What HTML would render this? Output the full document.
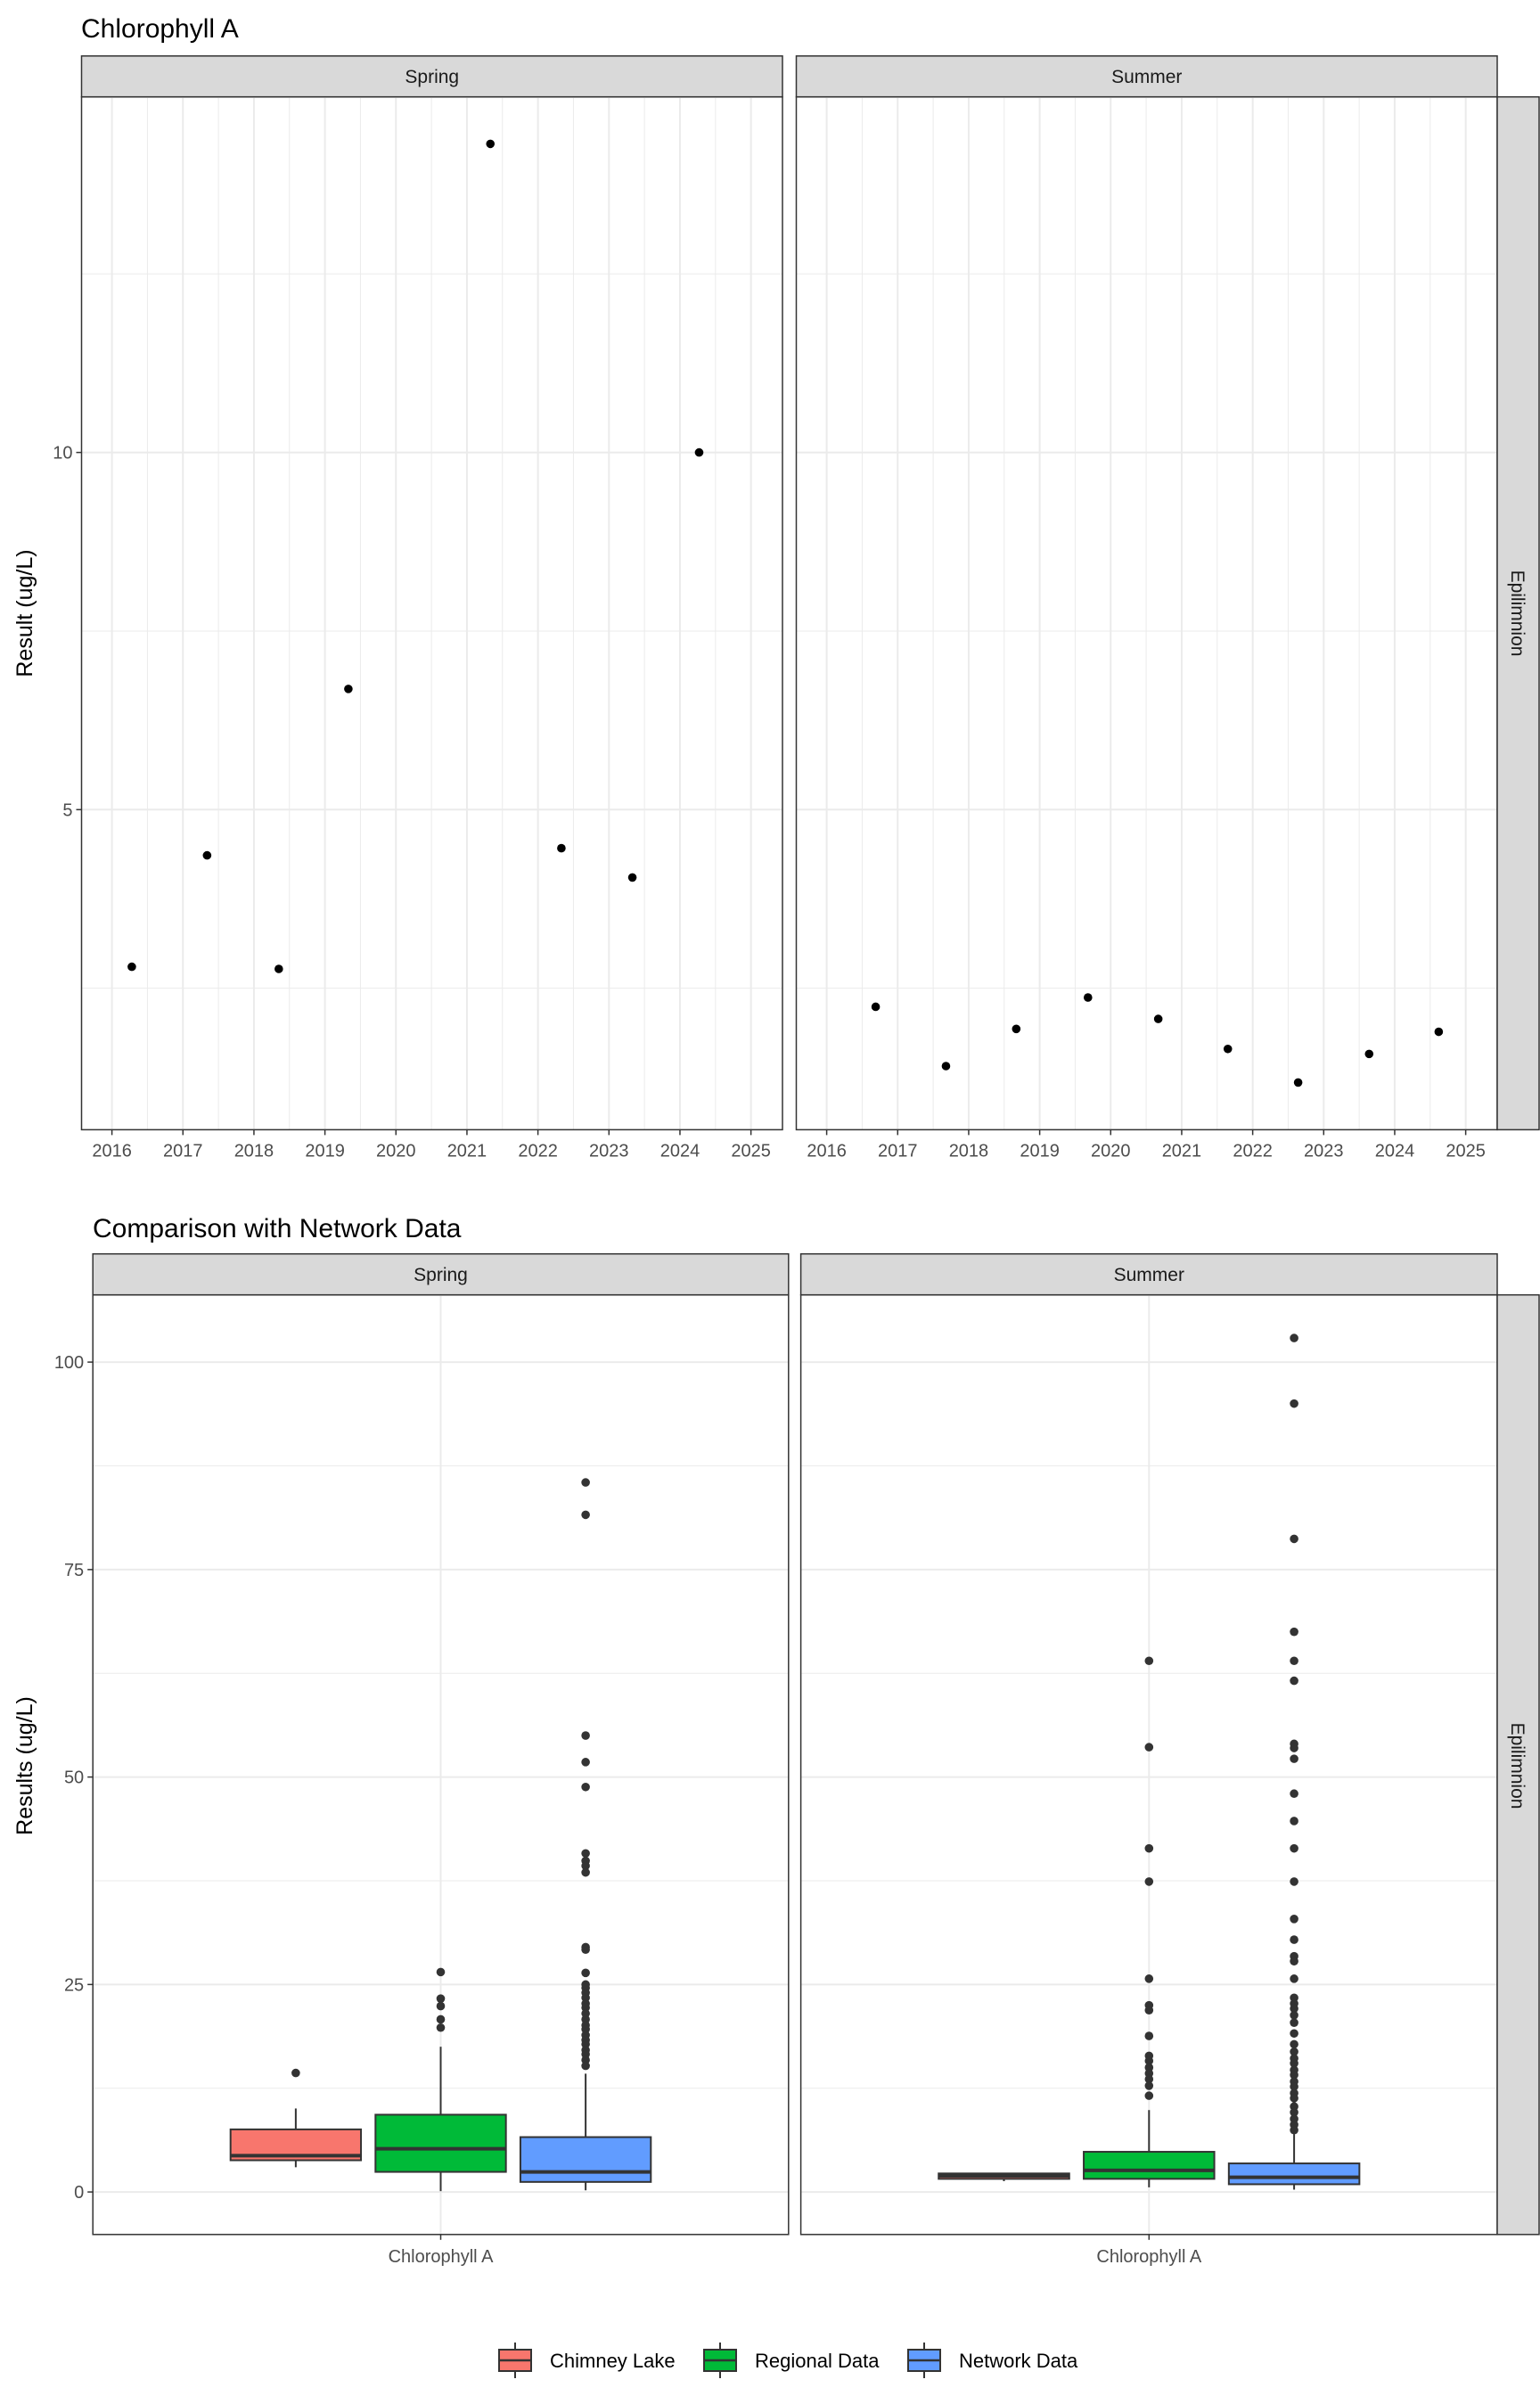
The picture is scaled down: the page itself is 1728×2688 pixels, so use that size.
<!DOCTYPE html>
<html><head><meta charset="utf-8"><style>
body{margin:0;background:#fff;}
svg{display:block;font-family:"Liberation Sans",Arial,sans-serif;}
</style></head><body>
<svg id="chart" width="1728" height="2688" viewBox="0 0 1728 2688" xmlns="http://www.w3.org/2000/svg">
<rect width="1728" height="2688" fill="#fff"/>
</svg>
<script>
// ---- Top chart data ----
const springYears = [2016.28, 2017.34, 2018.35, 2019.33, 2021.33, 2022.33, 2023.33, 2024.27];
const springValues = [2.80, 4.36, 2.77, 6.69, 14.32, 4.46, 4.05, 10.0];
const summerYears = [2016.69, 2017.68, 2018.67, 2019.68, 2020.67, 2021.65, 2022.64, 2023.64, 2024.62];
const summerValues = [2.24, 1.41, 1.93, 2.37, 2.07, 1.65, 1.18, 1.58, 1.89];
const yearTicks = [2016, 2017, 2018, 2019, 2020, 2021, 2022, 2023, 2024, 2025];
const topYTicks = [5, 10];
const topYMinor = [2.5, 7.5, 12.5];
// ---- Bottom chart data ----
const groups = ["Chimney Lake", "Regional Data", "Network Data"];
const groupColors = ["#F8766D", "#00BA38", "#619CFF"];
// [whiskerLow, q1, median, q3, whiskerHigh]
const springBoxes = [[2.98, 3.82, 4.38, 7.54, 10.06],[0.1, 2.42, 5.21, 9.31, 17.5],[0.2, 1.21, 2.42, 6.61, 14.25]];
const summerBoxes = [[1.3, 1.58, 1.95, 2.23, 2.3],[0.56, 1.58, 2.6, 4.84, 9.87],[0.28, 0.93, 1.77, 3.44, 6.98]];
const springOutliers = [[14.34],[26.5,23.3,22.4,20.8,19.8],
 [85.5,81.6,55.0,51.8,48.8,40.8,39.9,39.3,38.5,29.5,29.2,26.4,25.0,24.6,24.0,23.4,22.7,22.2,21.5,20.8,20.1,19.6,18.9,18.3,17.8,17.1,16.6,15.9,15.2]];
const summerOutliers = [[],[64.0,53.6,41.4,37.4,25.7,22.5,21.9,18.8,16.4,15.8,15.0,14.3,13.6,12.8,11.6],
 [102.9,95.0,78.7,67.5,64.0,61.6,54.0,53.5,52.2,48.0,44.7,41.4,37.4,32.9,30.4,28.4,27.8,25.7,23.4,22.7,22.1,21.3,20.4,19.1,17.8,16.9,16.1,15.5,14.7,14.1,13.3,12.7,11.9,11.3,10.3,9.6,8.8,8.1,7.45]];
const botYTicks = [0, 25, 50, 75, 100];
const botYMinor = [12.5, 37.5, 62.5, 87.5];

const svg = document.getElementById('chart');
const NS = 'http://www.w3.org/2000/svg';
function mk(tag, attrs, parent, text){
  const e = document.createElementNS(NS, tag);
  for (const k in attrs) e.setAttribute(k, attrs[k]);
  if (text !== undefined) e.textContent = text;
  (parent || svg).appendChild(e);
  return e;
}

// ---- TOP CHART ----
const topPanels = [{x0:91.5, x1:878, name:'Spring', yrs:springYears, vals:springValues},
                   {x0:893.5, x1:1680, name:'Summer', yrs:summerYears, vals:summerValues}];
const tTop = 108.7, tBot = 1267.4;
const topY = v => 1309 - v * 80.14;
const t1 = mk('text', {x:91, y:42, 'font-size':30, fill:'#000'}, svg, 'Chlorophyll A');
 
const ya = mk('text', {x:0, y:0, 'font-size':25, fill:'#000', 'text-anchor':'middle', transform:'translate(36,688) rotate(-90)'}, svg, 'Result (ug/L)');
 

topPanels.forEach((p, pi) => {
  const g = mk('g', {});
  
  
  const xs = yr => p.x0 + 34.1 + (yr - 2016) * 79.67;
  // strip
  const st = mk('rect', {x:p.x0, y:62.8, width:p.x1-p.x0, height:tTop-62.8, fill:'#D9D9D9', stroke:'#333', 'stroke-width':1.5}, g);
   
  mk('text', {x:(p.x0+p.x1)/2, y:93, 'font-size':21, fill:'#1A1A1A', 'text-anchor':'middle'}, g, p.name);
  // grid
  topYMinor.forEach(v => mk('line', {x1:p.x0, x2:p.x1, y1:topY(v), y2:topY(v), stroke:'#EBEBEB', 'stroke-width':1}, g));
  yearTicks.forEach(yr => { if (yr < 2025) { const x = xs(yr + 0.5); mk('line', {x1:x, x2:x, y1:tTop, y2:tBot, stroke:'#EBEBEB', 'stroke-width':1}, g);} });
  topYTicks.forEach(v => mk('line', {x1:p.x0, x2:p.x1, y1:topY(v), y2:topY(v), stroke:'#EBEBEB', 'stroke-width':2}, g));
  yearTicks.forEach(yr => { const x = xs(yr); mk('line', {x1:x, x2:x, y1:tTop, y2:tBot, stroke:'#EBEBEB', 'stroke-width':2}, g);
    mk('line', {x1:x, x2:x, y1:tBot, y2:tBot+6, stroke:'#333', 'stroke-width':1.5}, g);
    const lb = mk('text', {x:x, y:tBot+30, 'font-size':20, fill:'#4D4D4D', 'text-anchor':'middle'}, g, String(yr));
     
  });
  if (pi === 0) topYTicks.forEach(v => {
    mk('line', {x1:p.x0-6, x2:p.x0, y1:topY(v), y2:topY(v), stroke:'#333', 'stroke-width':1.5}, g);
    const lb = mk('text', {x:p.x0-10, y:topY(v)+7, 'font-size':20, fill:'#4D4D4D', 'text-anchor':'end'}, g, String(v));
     
  });
  p.yrs.forEach((yr, i) => {
    const c = mk('circle', {cx:xs(yr), cy:topY(p.vals[i]), r:4.8, fill:'#000'}, g);
    
    
  });
  const bd = mk('rect', {x:p.x0, y:tTop, width:p.x1-p.x0, height:tBot-tTop, fill:'none', stroke:'#333', 'stroke-width':1.5}, g);
   
});
// right strip top
const rs1 = mk('rect', {x:1680, y:tTop, width:47, height:tBot-tTop, fill:'#D9D9D9', stroke:'#333', 'stroke-width':1.5});
 
mk('text', {x:0, y:0, 'font-size':21, fill:'#1A1A1A', 'text-anchor':'middle', transform:'translate(1696,688) rotate(90)'}, svg, 'Epilimnion');

// ---- BOTTOM CHART ----
const bTop = 1452.7, bBot = 2506.8;
const botY = v => 2459.1 - v * 9.31;
const t2 = mk('text', {x:104, y:1388, 'font-size':30, fill:'#000'}, svg, 'Comparison with Network Data');
 
const yb = mk('text', {x:0, y:0, 'font-size':25, fill:'#000', 'text-anchor':'middle', transform:'translate(36,1981) rotate(-90)'}, svg, 'Results (ug/L)');
 
const botPanels = [{x0:104.2, x1:884.8, name:'Spring', boxes:springBoxes, outs:springOutliers},
                   {x0:898.6, x1:1680, name:'Summer', boxes:summerBoxes, outs:summerOutliers}];
botPanels.forEach((p, pi) => {
  const g = mk('g', {});
  
  
  const w = p.x1 - p.x0, unit = w / 1.2, cx = (p.x0 + p.x1) / 2;
  const st = mk('rect', {x:p.x0, y:1406.7, width:w, height:bTop-1406.7, fill:'#D9D9D9', stroke:'#333', 'stroke-width':1.5}, g);
   
  mk('text', {x:cx, y:1437, 'font-size':21, fill:'#1A1A1A', 'text-anchor':'middle'}, g, p.name);
  botYMinor.forEach(v => mk('line', {x1:p.x0, x2:p.x1, y1:botY(v), y2:botY(v), stroke:'#EBEBEB', 'stroke-width':1}, g));
  botYTicks.forEach(v => mk('line', {x1:p.x0, x2:p.x1, y1:botY(v), y2:botY(v), stroke:'#EBEBEB', 'stroke-width':2}, g));
  mk('line', {x1:cx, x2:cx, y1:bTop, y2:bBot, stroke:'#EBEBEB', 'stroke-width':2}, g);
  mk('line', {x1:cx, x2:cx, y1:bBot, y2:bBot+6, stroke:'#333', 'stroke-width':1.5}, g);
  mk('text', {x:cx, y:bBot+31, 'font-size':20, fill:'#4D4D4D', 'text-anchor':'middle'}, g, 'Chlorophyll A');
  if (pi === 0) botYTicks.forEach(v => {
    mk('line', {x1:p.x0-6, x2:p.x0, y1:botY(v), y2:botY(v), stroke:'#333', 'stroke-width':1.5}, g);
    const lb = mk('text', {x:p.x0-10, y:botY(v)+7, 'font-size':20, fill:'#4D4D4D', 'text-anchor':'end'}, g, String(v));
     
  });
  p.boxes.forEach((b, i) => {
    const bc = cx + (i - 1) * 0.25 * unit, hw = 0.225 * unit / 2;
    const bg = mk('g', {}, g);
    
    
    mk('line', {x1:bc, x2:bc, y1:botY(b[0]), y2:botY(b[1]), stroke:'#333', 'stroke-width':2}, bg);
    mk('line', {x1:bc, x2:bc, y1:botY(b[3]), y2:botY(b[4]), stroke:'#333', 'stroke-width':2}, bg);
    mk('rect', {x:bc-hw, y:botY(b[3]), width:2*hw, height:botY(b[1])-botY(b[3]), fill:groupColors[i], stroke:'#333', 'stroke-width':2}, bg);
    mk('line', {x1:bc-hw, x2:bc+hw, y1:botY(b[2]), y2:botY(b[2]), stroke:'#333', 'stroke-width':4}, bg);
    p.outs[i].forEach(v => {
      const c = mk('circle', {cx:bc, cy:botY(v), r:4.8, fill:'#333'}, bg);
      
      
    });
  });
  mk('rect', {x:p.x0, y:bTop, width:w, height:bBot-bTop, fill:'none', stroke:'#333', 'stroke-width':1.5}, g);
});
const rs2 = mk('rect', {x:1680, y:bTop, width:47, height:bBot-bTop, fill:'#D9D9D9', stroke:'#333', 'stroke-width':1.5});
 
mk('text', {x:0, y:0, 'font-size':21, fill:'#1A1A1A', 'text-anchor':'middle', transform:'translate(1696,1981) rotate(90)'}, svg, 'Epilimnion');

// ---- LEGEND ----
const legendKeyX = [560, 790, 1019];
const lg = mk('g', {});


groups.forEach((gname, i) => {
  const e = mk('g', {}, lg);
  
  
  const kx = legendKeyX[i], ky = 2648;
  mk('line', {x1:kx+18, x2:kx+18, y1:ky-20, y2:ky+20, stroke:'#333', 'stroke-width':2}, e);
  mk('rect', {x:kx, y:ky-12, width:36, height:24, fill:groupColors[i], stroke:'#333', 'stroke-width':2}, e);
  mk('line', {x1:kx, x2:kx+36, y1:ky, y2:ky, stroke:'#333', 'stroke-width':2.5}, e);
  mk('text', {x:kx+57, y:ky+8, 'font-size':22, fill:'#000'}, e, gname);
});
</script>
</body></html>
